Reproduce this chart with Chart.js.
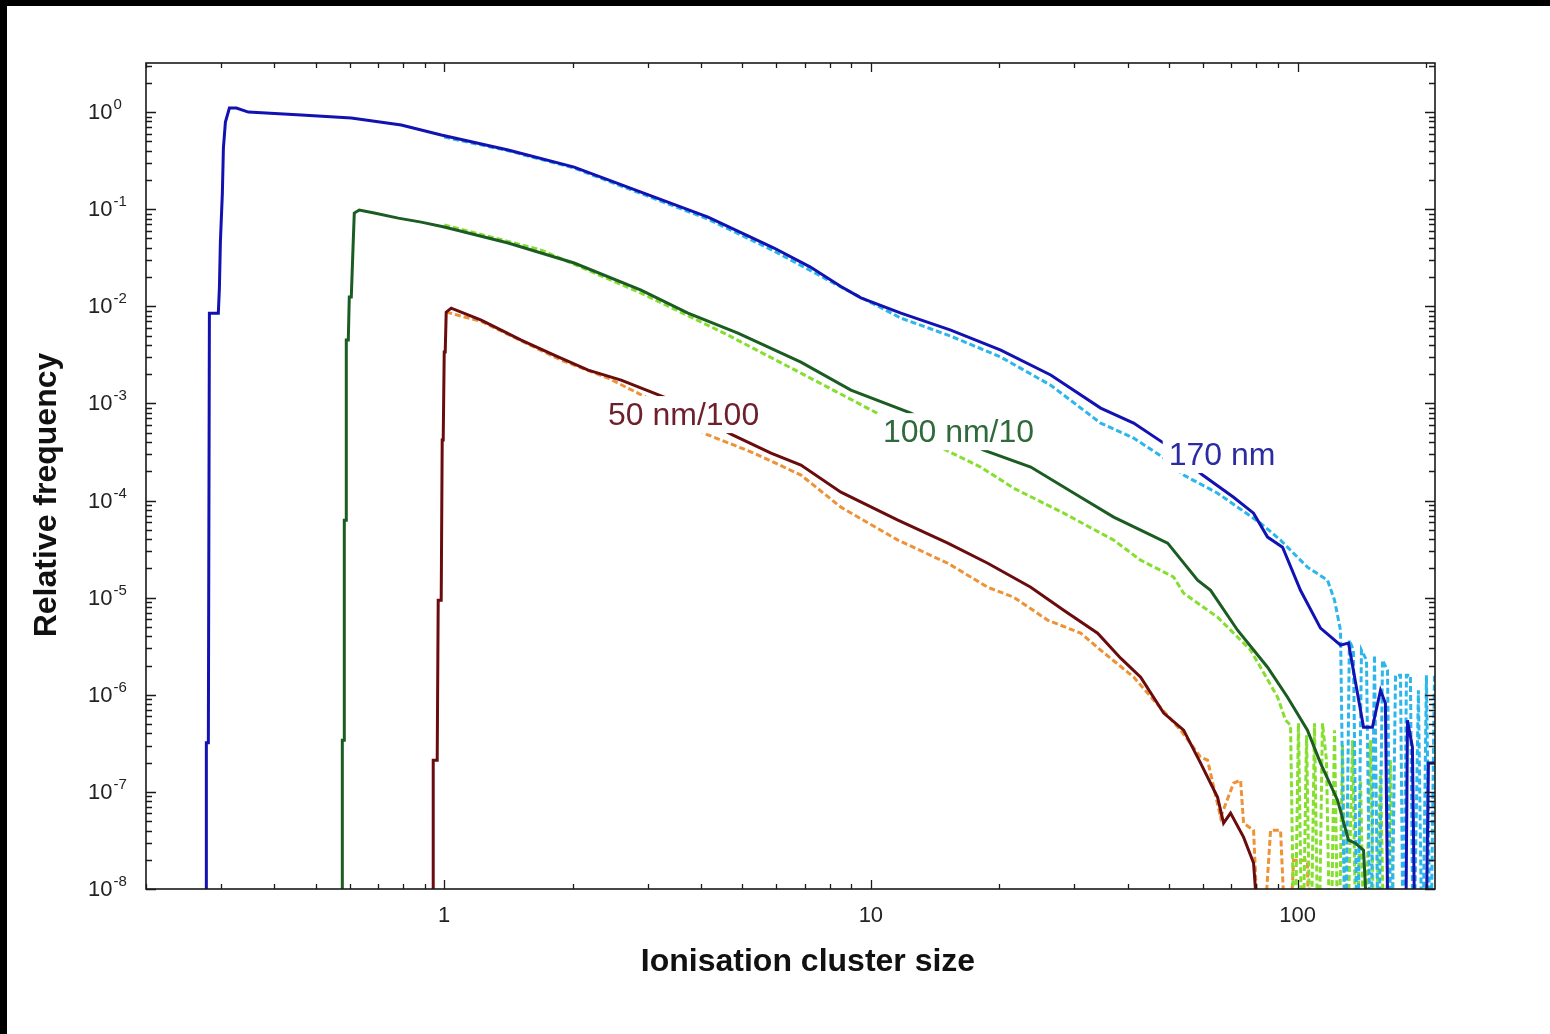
<!DOCTYPE html>
<html>
<head>
<meta charset="utf-8">
<title>Ionisation cluster size distributions</title>
<script src="https://cdn.jsdelivr.net/npm/chart.js@4.4.1/dist/chart.umd.min.js"></script>
<style>
  html, body { margin: 0; padding: 0; background: #000; }
  #wrap { position: absolute; left: 7px; top: 6px; width: 1543px; height: 1028px; background: #fff; }
  canvas { display: block; }
</style>
</head>
<body>
<div id="wrap"><canvas id="myChart" width="1543" height="1028"></canvas></div>
<script>
// ---- data (cluster size, relative frequency) ----
// 1e-9 = empty bin, falls below the bottom of the axis

// 170 nm, measured (solid blue)
const size170 = [0.277, 0.277, 0.280, 0.2816, 0.2955, 0.2972, 0.2988, 0.302, 0.3037, 0.307,
  0.3137, 0.3258, 0.3475, 0.4625, 0.6056, 0.793, 0.984, 1.412, 2.016, 2.893,
  4.153, 5.93, 7.2, 8.507, 9.475, 11.76, 15.39, 20.16, 26.39, 34.56, 41.29,
  48.56, 59.92, 70.81, 78.88, 85.06, 92.24, 101.6, 113.2, 126.1, 131.7,
  142.8, 149.8, 156.5, 160.7, 163.4, 179.0, 181.0, 185.9, 188.9, 199.4,
  202.7, 215];
const freq170 = [1e-9, 3.2e-7, 3.2e-7, 8.5e-3, 8.5e-3, 1.54e-2, 4.58e-2, 0.1465, 0.426, 0.789,
  1.10, 1.10, 1.0, 0.931, 0.868, 0.735, 0.58, 0.406, 0.271, 0.150,
  0.0829, 0.0398, 0.0255, 0.0160, 0.0122, 0.00851, 0.00569, 0.00354, 0.00196, 8.95e-4, 6.27e-4,
  3.90e-4, 1.83e-4, 1.08e-4, 7.41e-5, 4.20e-5, 3.31e-5, 1.19e-5, 4.85e-6, 3.24e-6, 3.40e-6,
  4.63e-7, 4.63e-7, 1.11e-6, 8.19e-7, 1e-9, 1e-9, 5.47e-7, 2.88e-7, 1e-9, 1e-9,
  1.98e-7, 1.98e-7];

// 170 nm, simulated (dashed cyan)
const size170sim = [1.0, 1.412, 2.016, 4.153, 5.93, 8.507, 11.76, 15.39, 20.16, 26.39,
  34.56, 41.29, 48.29, 54.08, 64.95, 81.9, 91.25, 105.5, 117.6, 122.1,
  126.1, 129.5, 132.3, 135.2, 138.2, 141.2, 145.1, 148.3, 151.5, 154.8,
  158.2, 162.5, 166.0, 169.7, 174.3, 177.1, 180.0, 183.9, 186.9, 192.0,
  196.2, 200.5, 204.9, 209.4, 216.2];
const freq170sim = [0.553, 0.40, 0.265, 0.079, 0.0371, 0.0158, 0.00756, 0.00493, 0.0030, 0.00154,
  6.27e-4, 4.40e-4, 2.80e-4, 1.83e-4, 1.19e-4, 5.85e-5, 3.91e-5, 2.06e-5, 1.51e-5, 9.42e-6,
  4.62e-6, 1e-9, 3.65e-6, 2.88e-6, 1e-9, 2.88e-6, 2.27e-6, 1e-9, 2.56e-6, 1e-9,
  2.27e-6, 1.79e-6, 1e-9, 1.59e-6, 1.59e-6, 1e-9, 1.59e-6, 1.59e-6, 1e-9, 1.11e-6,
  1e-9, 1.59e-6, 1e-9, 1.59e-6, 1.59e-6];

// 100 nm / 10, measured (solid dark green)
const size100 = [0.577, 0.577, 0.5832, 0.5832, 0.5895, 0.5895, 0.5959, 0.5991, 0.6056, 0.6122,
  0.6155, 0.6323, 0.6856, 0.7803, 0.8833, 1.0, 1.412, 2.016, 2.893, 3.727,
  4.88, 6.855, 8.98, 12.41, 18.39, 23.70, 31.03, 37.08, 42.89, 49.62,
  58.32, 62.56, 72.36, 85.06, 94.75, 105.5, 113.2, 124.1, 131.7, 136.7,
  142.8, 148.3];
const freq100 = [1e-9, 3.4e-7, 3.4e-7, 6.28e-5, 6.28e-5, 4.49e-3, 4.49e-3, 0.01244, 0.01244, 0.0481,
  0.0912, 0.098, 0.0912, 0.0809, 0.0736, 0.0655, 0.0448, 0.0279, 0.01469, 0.00851,
  0.0053, 0.00266, 0.00137, 7.94e-4, 3.31e-4, 2.21e-4, 1.08e-4, 6.75e-5, 4.95e-5, 3.64e-5,
  1.51e-5, 1.19e-5, 4.62e-6, 1.92e-6, 9.44e-7, 4.32e-7, 1.98e-7, 8.22e-8, 3.18e-8, 2.96e-8,
  2.51e-8, 1e-9];

// 100 nm / 10, simulated (dashed light green)
const size100sim = [1.0, 1.688, 2.893, 4.526, 6.855, 10.55, 14.98, 18.09, 21.62, 28.31,
  37.08, 42.89, 51.25, 54.08, 64.95, 77.62, 81.9, 89.8, 93.73, 96.3,
  98.4, 100.5, 102.7, 105.0, 107.3, 109.6, 112.0, 114.4, 116.9, 119.5,
  122.1, 124.7, 127.5, 130.3, 134.6, 137.5, 140.5, 143.6, 148.3, 151.5,
  156.5, 159.9, 165.2, 168.8];
const freq100sim = [0.0686, 0.0379, 0.01368, 0.0053, 0.00205, 7.58e-4, 3.31e-4, 2.21e-4, 1.34e-4, 7.41e-5,
  3.91e-5, 2.43e-5, 1.63e-5, 1.11e-5, 6.3e-6, 2.88e-6, 1.92e-6, 9.44e-7, 5.47e-7, 4.86e-7,
  1e-9, 5.1e-7, 1e-9, 3.83e-7, 1e-9, 5.1e-7, 1e-9, 5.1e-7, 2.12e-7, 1e-9,
  4.32e-7, 1e-9, 3.03e-7, 1e-9, 3.4e-7, 1e-9, 1.32e-7, 1e-9, 3.4e-7, 1e-9,
  1.67e-7, 1e-9, 2.12e-7, 1e-9];

// 50 nm / 100, measured (solid maroon)
const size50 = [0.9424, 0.9424, 0.9629, 0.9681, 0.9839, 0.9892, 0.9946, 1.0, 1.0054, 1.0108,
  1.0385, 1.221, 1.515, 1.81, 2.175, 2.598, 3.276, 4.699, 5.833, 6.856,
  8.507, 11.57, 15.15, 18.79, 23.70, 28.31, 34.0, 38.5, 42.89, 48.56,
  54.08, 59.27, 64.95, 67.09, 69.67, 74.73, 78.88, 82.79];
const freq50 = [1e-9, 2.12e-7, 2.12e-7, 9.42e-6, 9.42e-6, 4.19e-4, 4.19e-4, 3.38e-3, 3.38e-3, 8.71e-3,
  9.58e-3, 7.21e-3, 4.49e-3, 3.14e-3, 2.2e-3, 1.74e-3, 1.16e-3, 4.83e-4, 3.08e-4, 2.32e-4,
  1.22e-4, 6.28e-5, 3.64e-5, 2.26e-5, 1.28e-5, 7.43e-6, 4.31e-6, 2.38e-6, 1.52e-6, 6.47e-7,
  4.32e-7, 1.98e-7, 8.81e-8, 4.76e-8, 6.04e-8, 3.42e-8, 1.85e-8, 1e-9];

// 50 nm / 100, simulated (dashed orange)
const size50sim = [1.0108, 1.221, 1.879, 2.422, 3.005, 4.108, 5.321, 6.856, 8.507, 11.57,
  15.15, 18.79, 21.62, 25.97, 31.03, 34.56, 41.29, 46.02, 53.2, 59.27,
  61.54, 66.02, 70.81, 73.54, 74.73, 78.88, 81.9, 86.46, 91.25, 94.75,
  97.9, 105.5, 106.7];
const freq50sim = [8.71e-3, 7.0e-3, 2.79e-3, 1.82e-3, 1.13e-3, 4.83e-4, 3.08e-4, 1.83e-4, 8.55e-5, 3.91e-5,
  2.26e-5, 1.28e-5, 1.01e-5, 5.86e-6, 4.31e-6, 2.88e-6, 1.52e-6, 8.8e-7, 4.32e-7, 2.28e-7,
  2.12e-7, 5.48e-8, 1.23e-7, 1.32e-7, 4.76e-8, 4.03e-8, 1e-9, 4.03e-8, 4.03e-8, 1e-9,
  1.98e-8, 1.98e-8, 1e-9];

// axis ticks
const xMajorTicks = [1, 10, 100];
const xTickLabels = ['1', '10', '100'];
const yExponents = [-8, -7, -6, -5, -4, -3, -2, -1, 0];

// names written next to the curves
const curveNames = ['170 nm', '100 nm/10', '50 nm/100'];

const FONT = '"Liberation Sans", Arial, Helvetica, sans-serif';

function pts(xs, ys) {
  return xs.map((x, i) => ({ x: x, y: ys[i] }));
}

// curve labels: anchored in data units (left edge, baseline)
const curveLabelSpots = [
  { at: [49.9, 2.32e-4], color: '#2c2ca0' },
  { at: [10.67, 3.99e-4], color: '#2f6a3a' },
  { at: [2.42, 5.98e-4], color: '#6e1f2c' }
];

const plotDecor = {
  id: 'plotDecor',
  afterDatasetsDraw(chart) {
    const ctx = chart.ctx;
    const xs = chart.scales.x;
    const ys = chart.scales.y;
    ctx.save();
    ctx.font = '32px ' + FONT;
    ctx.textBaseline = 'alphabetic';
    ctx.textAlign = 'left';
    curveNames.forEach((name, i) => {
      const spot = curveLabelSpots[i];
      const px = xs.getPixelForValue(spot.at[0]);
      const py = ys.getPixelForValue(spot.at[1]);
      const w = ctx.measureText(name).width;
      ctx.fillStyle = '#fff';
      ctx.fillRect(px - 6, py - 29, w + 12, 37);
      ctx.fillStyle = spot.color;
      ctx.fillText(name, px, py);
    });
    ctx.restore();
  },
  afterDraw(chart) {
    const ctx = chart.ctx;
    const a = chart.chartArea;
    const xs = chart.scales.x;
    const ys = chart.scales.y;
    ctx.save();

    // frame
    ctx.strokeStyle = '#1a1a1a';
    ctx.lineWidth = 1.6;
    ctx.strokeRect(a.left, a.top, a.right - a.left, a.bottom - a.top);

    // inward ticks on all four sides
    ctx.lineWidth = 1.3;
    ctx.beginPath();
    for (let k = -1; k <= 2; k++) {
      for (let m = 1; m <= 9; m++) {
        const v = m * Math.pow(10, k);
        const px = Math.round(xs.getPixelForValue(v)) + 0.5;
        if (px < a.left || px > a.right) continue;
        const len = m === 1 ? 9 : 5;
        ctx.moveTo(px, a.bottom); ctx.lineTo(px, a.bottom - len);
        ctx.moveTo(px, a.top); ctx.lineTo(px, a.top + len);
      }
    }
    for (let k = -8; k <= 0; k++) {
      for (let m = 1; m <= 9; m++) {
        const v = m * Math.pow(10, k);
        const py = Math.round(ys.getPixelForValue(v)) + 0.5;
        if (py < a.top - 0.5 || py > a.bottom + 0.5) continue;
        const len = m === 1 ? 10 : 6;
        ctx.moveTo(a.left, py); ctx.lineTo(a.left + len, py);
        ctx.moveTo(a.right, py); ctx.lineTo(a.right - len, py);
      }
    }
    ctx.stroke();

    // y tick labels 10^n
    ctx.fillStyle = '#222';
    ctx.textAlign = 'left';
    ctx.textBaseline = 'alphabetic';
    yExponents.forEach((e) => {
      const py = ys.getPixelForValue(Math.pow(10, e));
      ctx.font = '22px ' + FONT;
      ctx.fillText('10', 81, py + 7);
      const w = ctx.measureText('10').width;
      ctx.font = '15px ' + FONT;
      ctx.fillText(String(e), 81 + w + 1, py - 3);
    });

    // x tick labels
    ctx.font = '22px ' + FONT;
    ctx.textAlign = 'center';
    ctx.textBaseline = 'middle';
    xMajorTicks.forEach((v, i) => {
      ctx.fillText(xTickLabels[i], xs.getPixelForValue(v), a.bottom + 27);
    });

    // axis titles
    ctx.fillStyle = '#111';
    ctx.font = 'bold 32px ' + FONT;
    ctx.fillText('Ionisation cluster size', a.left + 662, a.bottom + 73);
    ctx.translate(40, a.top + 432);
    ctx.rotate(-Math.PI / 2);
    ctx.fillText('Relative frequency', 0, 0);
    ctx.restore();
  }
};

const solid = (color) => ({ borderColor: color, borderWidth: 3, borderDash: [] });
const dashed = (color) => ({ borderColor: color, borderWidth: 3, borderDash: [6, 3] });

new Chart(document.querySelector('#myChart').getContext('2d'), {
  type: 'line',
  data: {
    datasets: [
      { label: '170 nm', data: pts(size170, freq170), ...solid('#1212b2') },
      { label: '100 nm/10', data: pts(size100, freq100), ...solid('#1b5c22') },
      { label: '50 nm/100', data: pts(size50, freq50), ...solid('#6a0c0e') },
      { label: '170 nm sim', data: pts(size170sim, freq170sim), ...dashed('#2cb6ec') },
      { label: '100 nm/10 sim', data: pts(size100sim, freq100sim), ...dashed('#86de2e') },
      { label: '50 nm/100 sim', data: pts(size50sim, freq50sim), ...dashed('#ef9236') }
    ]
  },
  options: {
    responsive: false,
    animation: false,
    layout: { padding: { left: 139, top: 57, right: 115, bottom: 145 } },
    datasets: { line: { clip: 0, pointRadius: 0, tension: 0, fill: false } },
    plugins: { legend: { display: false }, tooltip: { enabled: false } },
    scales: {
      x: { type: 'logarithmic', min: 0.2, max: 210, display: false },
      y: { type: 'logarithmic', min: 1e-8, max: 3.2, display: false }
    }
  },
  plugins: [plotDecor]
});
</script>
</body>
</html>
